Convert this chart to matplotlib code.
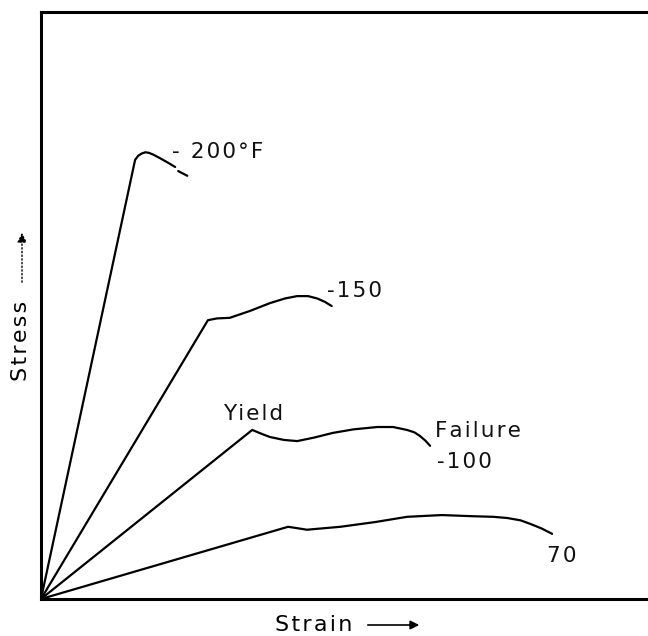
import numpy as np
import matplotlib.pyplot as plt

# Curves (strain, stress in arbitrary units)
strain_200 = [0, 1.55, 1.60, 1.66, 1.72, 1.78, 1.85, 1.96, 2.08, 2.21]
stress_200 = [0, 7.48, 7.55, 7.59, 7.61, 7.60, 7.57, 7.51, 7.44, 7.36]
strain_200_tail = [2.26, 2.41]
stress_200_tail = [7.29, 7.21]

strain_150 = [0, 2.75, 2.90, 3.11, 3.45, 3.77, 4.02, 4.22, 4.40, 4.55, 4.68, 4.79]
stress_150 = [0, 4.75, 4.78, 4.79, 4.91, 5.04, 5.12, 5.16, 5.16, 5.12, 5.06, 4.99]

strain_100 = [0, 3.48, 3.62, 3.77, 4.00, 4.22, 4.50, 4.81, 5.15, 5.54, 5.80, 6.03, 6.15, 6.24, 6.33, 6.41]
stress_100 = [0, 2.88, 2.82, 2.76, 2.71, 2.69, 2.75, 2.83, 2.89, 2.93, 2.93, 2.88, 2.84, 2.78, 2.70, 2.61]

strain_70 = [0, 4.07, 4.20, 4.38, 4.93, 5.50, 6.03, 6.60, 7.12, 7.45, 7.68, 7.90, 8.06, 8.25, 8.42]
stress_70 = [0, 1.23, 1.21, 1.18, 1.23, 1.31, 1.40, 1.43, 1.41, 1.40, 1.38, 1.34, 1.28, 1.20, 1.11]

# curve labels
labels = ["- 200°F", "-150", "Yield", "Failure", "-100", "70"]
label_x = [2.16, 4.71, 3.00, 6.49, 6.52, 8.34]
label_y = [7.61, 5.25, 3.15, 2.86, 2.33, 0.73]


def spaced(t):
    # the old lettering has wide letter spacing
    return '\u200a'.join(t)


fig = plt.figure(figsize=(6.48, 6.36), dpi=100)
ax = fig.add_axes([41 / 648, 1 - 599 / 636, 1 - 41 / 648, (599 - 12) / 636])

lw = 1.6
for sx, sy in [(strain_200, stress_200), (strain_200_tail, stress_200_tail),
               (strain_150, stress_150), (strain_100, stress_100),
               (strain_70, stress_70)]:
    ax.plot(sx, sy, color='black', lw=lw, solid_joinstyle='round', solid_capstyle='round')

for t, x, y in zip(labels, label_x, label_y):
    ax.text(x, y, spaced(t), fontsize=15.5, ha='left', va='center', color='#111111')

ax.set_xlim(0, 10)
ax.set_ylim(0, 10)
ax.set_xticks([])
ax.set_yticks([])
ax.spines['right'].set_visible(False)
for s in ['left', 'bottom', 'top']:
    ax.spines[s].set_linewidth(2.2)

# axis titles with arrows
fig.text(275 / 648, 1 - 625 / 636, spaced("Strain"), fontsize=16, ha='left', va='center')
ax.annotate("", xy=(422 / 648, 1 - 625 / 636), xytext=(365 / 648, 1 - 625 / 636),
            xycoords='figure fraction', textcoords='figure fraction',
            arrowprops=dict(arrowstyle='-|>', color='black', lw=1.2, mutation_scale=13))
fig.text(21 / 648, 1 - 341 / 636, spaced("Stress"), fontsize=16, rotation=90, ha='center', va='center')
ax.annotate("", xy=(22 / 648, 1 - 230 / 636), xytext=(22 / 648, 1 - 285 / 636),
            xycoords='figure fraction', textcoords='figure fraction',
            arrowprops=dict(arrowstyle='-|>', color='black', lw=1.0, ls=':', mutation_scale=14))

plt.savefig("out.png", dpi=100)
